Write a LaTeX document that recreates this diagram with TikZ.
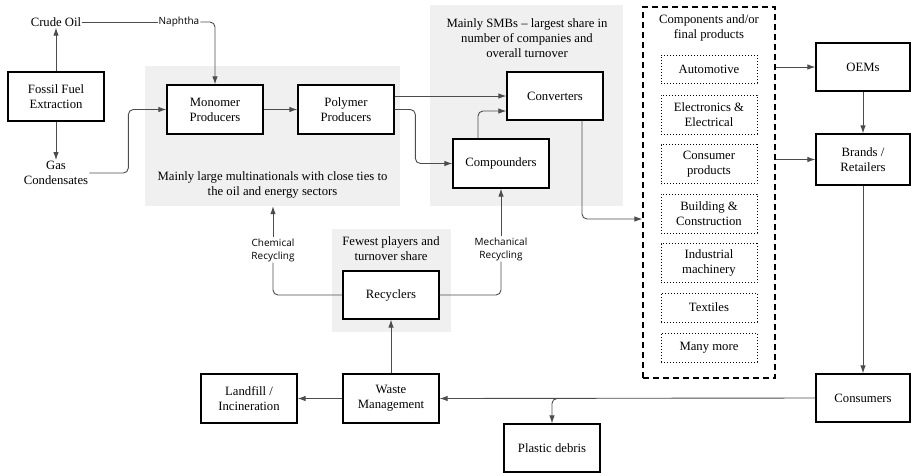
\documentclass[tikz,border=0pt]{standalone}
\usepackage{fontspec}
\setmainfont{Liberation Serif}
\newfontfamily\labelfont{Open Sans}
\usetikzlibrary{arrows.meta}
\begin{document}
\begin{tikzpicture}[x=1pt,y=-1pt,
  txt/.style={font=\fontsize{12.7}{15}\selectfont, align=center, inner sep=1pt},
  box/.style={txt, draw=black, line width=1.3pt, fill=white, minimum width=96pt, minimum height=49pt},
  dotbox/.style={txt, draw=black, dotted, line width=1pt, minimum width=96pt},
  region/.style={fill=black!6, draw=none, inner sep=0pt},
  lbl/.style={font=\labelfont\fontsize{10}{13}\selectfont, align=center, inner sep=1pt},
  conn/.style={draw=black!70, line width=0.9pt, rounded corners=5pt},
  arr/.style={conn, -{Latex[length=8pt,width=5.5pt]}}
]
\useasboundingbox (0,0) rectangle (911,475);

% shaded regions
\node[region, minimum width=255pt, minimum height=140pt] (g1) at (272.5,136) {};
\node[region, minimum width=193pt, minimum height=201pt] (g2) at (526.5,105.5) {};
\node[region, minimum width=119pt, minimum height=103pt] (g3) at (391.5,280.5) {};

\node[txt] at (272.5,185) {Mainly large multinationals with close ties to\\the oil and energy sectors};
\node[txt] at (527,38.5) {Mainly SMBs -- largest share in\\number of companies and\\overall turnover};
\node[txt] at (391,249) {Fewest players and\\turnover share};

% left side
\node[txt] (crude) at (56,22) {Crude Oil};
\node[box] (fossil) at (56,96.5) {Fossil Fuel\\Extraction};
\node[txt] (gas) at (56,173) {Gas\\Condensates};
\node[lbl, fill=white] (naph) at (179,22) {Naphtha};

\node[box] (mono) at (215,109.5) {Monomer\\Producers};
\node[box] (poly) at (346,109.5) {Polymer\\Producers};
\node[box, minimum height=48pt] (conv) at (555,96) {Converters};
\node[box] (comp) at (501,163.5) {Compounders};

% products
\node[draw=black, dashed, line width=1.3pt, dash pattern=on 6pt off 4pt, minimum width=132pt, minimum height=371pt, inner sep=0pt] (dbox) at (709,192.5) {};
\node[txt] at (709,27.5) {Components and/or\\final products};
\node[dotbox, minimum height=28pt] (auto) at (709,69) {Automotive};
\node[dotbox, minimum height=39pt] (elec) at (709,114.5) {Electronics \&\\Electrical};
\node[dotbox, minimum height=39pt] (cons) at (709,164) {Consumer\\products};
\node[dotbox, minimum height=39pt] (build) at (709,213.5) {Building \&\\Construction};
\node[dotbox, minimum height=39pt] (indus) at (709,263) {Industrial\\machinery};
\node[dotbox, minimum height=29pt] (text) at (709,307.5) {Textiles};
\node[dotbox, minimum height=29pt] (many) at (709,347.5) {Many more};

% right column
\node[box, minimum width=94pt, minimum height=48pt] (oem) at (863,67) {OEMs};
\node[box, minimum width=94pt, minimum height=51pt] (brands) at (863,159.5) {Brands /\\Retailers};
\node[box, minimum width=94pt, minimum height=48pt] (consumers) at (863,398) {Consumers};

% bottom
\node[box] (waste) at (391,398.5) {Waste\\Management};
\node[box] (landfill) at (249,398.5) {Landfill /\\Incineration};
\node[box, minimum height=48pt] (recyclers) at (391,295) {Recyclers};
\node[box, minimum height=48pt] (debris) at (552,448) {Plastic debris};

\node[lbl] (chem) at (273,250) {Chemical\\Recycling};
\node[lbl] (mech) at (501,249) {Mechanical\\Recycling};

% connectors
\draw[arr] (fossil) -- (crude);
\draw[arr] (fossil) -- (gas);
\draw[conn] (crude.east) -- (naph.west);
\draw[arr] (naph.east) -| (mono.north);
\draw[arr] (gas.east) -| ([xshift=-38pt]mono.west) -- (mono.west);
\draw[arr] (mono) -- (poly);
\draw[arr] (poly.east |- conv.west) -- (conv.west);
\draw[arr] (poly.east) -| ([xshift=-37pt]comp.west) -- (comp.west);
\draw[arr] ([xshift=-23pt]comp.north) |- ([yshift=-15pt]conv.west);
\draw[arr] ([xshift=27pt]conv.south) |- ([yshift=-26.5pt]dbox.west);
\draw[arr] (dbox.east |- oem.west) -- (oem.west);
\draw[arr] (dbox.east |- brands.west) -- (brands.west);
\draw[arr] (oem) -- (brands);
\draw[arr] (brands) -- (consumers);
\draw[arr] (consumers.west) -- (waste.east);
\draw[arr] ([xshift=8pt]debris.north |- waste.east) -| (debris.north);
\draw[arr] (waste) -- (landfill);
\draw[arr] (waste) -- (recyclers);
\draw[conn] (recyclers.west) -| (chem.south);
\draw[arr] (chem.north) -- (chem.north |- g1.south);
\draw[conn] (recyclers.east) -| (mech.south);
\draw[arr] (mech.north) -- (mech.north |- comp.south);
\end{tikzpicture}
\end{document}
